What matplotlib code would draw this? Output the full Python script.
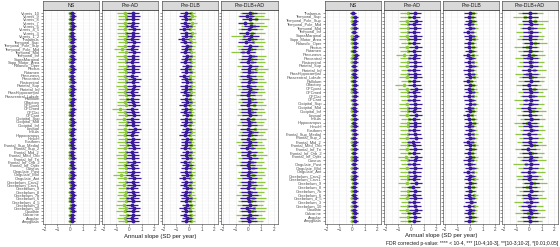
import numpy as np
import matplotlib
matplotlib.use("Agg")
import matplotlib.pyplot as plt

# region labels, listed bottom to top (as on the y axis)
regions = ["Amygdala", "Angular", "Calcarine", "Caudate", "Cerebelum_10", "Cerebelum_3",
           "Cerebelum_4_5", "Cerebelum_6", "Cerebelum_7b", "Cerebelum_8", "Cerebelum_9",
           "Cerebelum_Crus1", "Cerebelum_Crus2", "Cingulate_Ant", "Cingulate_Mid",
           "Cingulate_Post", "Cuneus", "Frontal_Inf_Oper", "Frontal_Inf_Orb_2",
           "Frontal_Inf_Tri", "Frontal_Med_Orb", "Frontal_Mid_2", "Frontal_Sup_2",
           "Frontal_Sup_Medial", "Fusiform", "Heschl", "Hippocampus", "Insula", "Lingual",
           "Occipital_Inf", "Occipital_Mid", "Occipital_Sup", "OFCant", "OFClat", "OFCmed",
           "OFCpost", "Olfactory", "Pallidum", "Paracentral_Lobule", "ParaHippocampal",
           "Parietal_Inf", "Parietal_Sup", "Postcentral", "Precentral", "Precuneus",
           "Putamen", "Rectus", "Rolandic_Oper", "Supp_Motor_Area", "SupraMarginal",
           "Temporal_Inf", "Temporal_Mid", "Temporal_Pole_Mid", "Temporal_Pole_Sup",
           "Temporal_Sup", "Thalamus"]
vermis = ["Vermis_1_2", "Vermis_3", "Vermis_4_5", "Vermis_6", "Vermis_7", "Vermis_8",
          "Vermis_9", "Vermis_10"]
labels_left = regions + vermis
labels_right = regions

facets = ["NS", "Pre-AD", "Pre-DLB", "Pre-DLB+AD"]

# ---- left half (64 rows): purple series (a) and green series (b) ----
left_ns_a = [0.15, 0.18, 0.12, 0.20, 0.16, 0.22, 0.14, 0.19, 0.25, 0.17, 0.13, 0.21, 0.18, 0.15, 0.23, 0.16,
             0.20, 0.12, 0.17, 0.24, 0.19, 0.14, 0.21, 0.16, 0.18, 0.22, 0.13, 0.17, 0.20, 0.15, 0.26, 0.18,
             0.14, 0.19, 0.23, 0.16, 0.12, 0.21, 0.18, 0.15, 0.20, 0.17, 0.24, 0.13, 0.19, 0.16, 0.22, 0.18,
             0.15, 0.21, 0.17, 0.25, 0.14, 0.20, 0.18, 0.23, 0.16, 0.19, 0.12, 0.22, 0.17, 0.15, 0.20, 0.18]
left_ns_b = [0.02, 0.05, -0.01, 0.04, 0.00, 0.06, 0.03, -0.02, 0.05, 0.01, 0.04, 0.07, 0.02, -0.01, 0.03, 0.05,
             0.00, 0.04, 0.06, 0.02, -0.02, 0.03, 0.05, 0.01, 0.04, 0.02, 0.06, 0.00, 0.03, 0.05, 0.01, 0.04,
             0.02, -0.01, 0.05, 0.03, 0.06, 0.01, 0.04, 0.02, 0.00, 0.05, 0.03, 0.07, 0.01, 0.04, 0.02, 0.05,
             0.03, 0.00, 0.06, 0.02, 0.04, 0.01, 0.05, 0.03, -0.01, 0.04, 0.02, 0.06, 0.03, 0.01, 0.05, 0.02]
left_ad_a = [0.30, 0.25, 0.35, 0.28, 0.40, 0.22, 0.33, 0.27, 0.38, 0.31, 0.24, 0.36, 0.29, 0.42, 0.26, 0.34,
             0.30, 0.21, 0.37, 0.28, 0.32, 0.25, 0.39, 0.30, 0.27, 0.35, 0.23, 0.31, 0.44, 0.28, 0.33, 0.26,
             0.36, 0.29, 0.24, 0.38, 0.31, 0.27, 0.34, 0.22, 0.30, 0.37, 0.28, 0.41, 0.25, 0.33, 0.29, 0.35,
             0.26, 0.32, 0.30, 0.38, 0.24, 0.31, 0.36, 0.27, 0.34, 0.29, 0.40, 0.25, 0.32, 0.28, 0.35, 0.30]
left_ad_b = [-0.25, -0.30, -0.18, -0.35, -0.22, -0.40, -0.28, -0.15, -0.32, -0.26, -0.20, -0.38, -0.24, -0.30, -0.65, -0.27,
             -0.21, -0.33, -0.19, -0.29, -0.36, -0.23, -0.31, -0.17, -0.28, -0.25, -0.34, -0.22, -0.30, -0.26, -0.20, -0.37,
             -0.24, -0.29, -0.70, -0.27, -0.32, -0.18, -0.25, -0.31, -0.23, -0.35, -0.28, -0.21, -0.33, -0.26, -0.30, -0.19,
             -0.27, -0.24, -0.36, -0.22, -0.55, -0.29, -0.25, -0.32, -0.20, -0.28, -0.34, -0.23, -0.30, -0.26, -0.21, -0.31]
left_dlb_a = [-0.25, -0.18, -0.30, -0.22, -0.35, -0.15, -0.27, -0.20, -0.32, -0.24, -0.17, -0.29, -0.21, -0.38, -0.19, -0.26,
              -0.23, -0.14, -0.31, -0.20, -0.28, -0.16, -0.33, -0.22, -0.25, -0.19, -0.36, -0.24, -0.18, -0.30, -0.21, -0.27,
              -0.15, -0.29, -0.23, -0.34, -0.20, -0.26, -0.17, -0.31, -0.22, -0.28, -0.19, -0.25, -0.40, -0.21, -0.27, -0.16,
              -0.30, -0.23, -0.18, -0.33, -0.24, -0.20, -0.29, -0.45, -0.22, -0.26, -0.38, -0.19, -0.31, -0.24, -0.35, -0.27]
left_dlb_b = [0.12, 0.08, 0.15, 0.10, 0.05, 0.14, 0.09, 0.17, 0.11, 0.06, 0.13, 0.10, 0.16, 0.07, 0.12, 0.09,
              0.14, 0.11, 0.05, 0.13, 0.08, 0.15, 0.10, 0.12, 0.07, 0.16, 0.09, 0.13, 0.11, 0.06, 0.14, 0.10,
              0.12, 0.08, 0.15, 0.11, 0.13, 0.07, 0.10, 0.14, 0.09, 0.12, 0.16, 0.08, 0.11, 0.13, 0.06, 0.10,
              0.15, 0.09, 0.12, 0.14, 0.08, 0.11, 0.18, 0.10, 0.13, 0.22, 0.09, 0.12, 0.25, 0.11, 0.20, 0.15]
left_mix_a = [0.05, -0.05, 0.10, 0.00, -0.10, 0.08, 0.02, -0.03, 0.12, 0.04, -0.08, 0.06, 0.00, 0.09, -0.04, 0.03,
              0.07, -0.06, 0.01, 0.11, -0.02, 0.05, -0.09, 0.04, 0.08, -0.01, 0.03, 0.10, -0.05, 0.06, 0.02, -0.07,
              0.09, 0.00, 0.04, -0.03, 0.07, 0.01, -0.06, 0.05, 0.10, -0.02, 0.03, 0.08, -0.04, 0.06, 0.00, 0.12,
              -0.05, 0.04, 0.09, -0.08, 0.02, 0.15, -0.20, 0.06, 0.18, -0.12, 0.05, 0.22, -0.25, 0.10, -0.15, 0.08]
left_mix_b = [0.15, 0.30, 0.05, 0.25, 0.40, 0.10, 0.20, 0.35, 0.00, 0.22, 0.45, 0.12, 0.28, 0.08, 0.32, 0.18,
              0.38, 0.06, 0.24, 0.15, 0.42, 0.10, 0.30, 0.20, 0.05, 0.35, 0.16, 0.26, 0.48, 0.12, 0.22, 0.34,
              0.08, 0.28, 0.18, 0.40, 0.14, 0.25, 0.06, 0.32, 0.20, 0.10, 0.36, 0.22, 0.15, 0.30, 0.55, 0.12,
              0.26, 0.18, 0.38, -0.40, 0.20, 0.10, 0.32, 0.24, -0.35, 0.28, 0.15, 0.45, 0.22, 0.60, 0.18, 0.30]

# ---- right half (56 rows) ----
right_ns_a = [0.20, 0.16, 0.24, 0.18, 0.22, 0.14, 0.26, 0.19, 0.21, 0.17, 0.25, 0.15, 0.23, 0.18,
              0.20, 0.13, 0.22, 0.27, 0.16, 0.21, 0.19, 0.24, 0.15, 0.20, 0.18, 0.23, 0.17, 0.21,
              0.14, 0.25, 0.19, 0.22, 0.16, 0.20, 0.24, 0.18, 0.21, 0.15, 0.23, 0.19, 0.26, 0.17,
              0.22, 0.20, 0.28, 0.16, 0.21, 0.24, 0.18, 0.30, 0.19, 0.23, 0.17, 0.25, 0.20, 0.05]
right_ns_b = [0.03, 0.00, 0.05, 0.02, -0.02, 0.04, 0.01, 0.06, 0.02, -0.01, 0.04, 0.03, 0.00, 0.05,
              0.02, 0.04, -0.02, 0.03, 0.06, 0.01, 0.04, 0.02, 0.00, 0.05, 0.03, -0.01, 0.04, 0.02,
              0.06, 0.01, 0.03, 0.05, 0.00, 0.04, 0.02, -0.02, 0.05, 0.03, 0.01, 0.04, 0.02, 0.06,
              0.00, 0.03, 0.05, 0.01, 0.04, -0.01, 0.03, 0.02, 0.05, 0.00, 0.04, 0.02, 0.03, 0.01]
right_ad_a = [0.25, 0.32, 0.20, 0.36, 0.28, 0.22, 0.34, 0.27, 0.30, 0.18, 0.38, 0.24, 0.31, 0.26,
              0.35, 0.21, 0.29, 0.40, 0.23, 0.33, 0.27, 0.19, 0.36, 0.28, 0.24, 0.32, 0.30, 0.22,
              0.37, 0.26, 0.29, 0.34, 0.20, 0.31, 0.25, 0.39, 0.27, 0.23, 0.33, 0.28, 0.21, 0.35,
              0.30, 0.24, 0.32, 0.26, 0.37, 0.22, 0.29, 0.34, 0.25, 0.31, 0.27, 0.36, 0.23, 0.30]
right_ad_b = [-0.20, -0.28, -0.15, -0.33, -0.24, -0.18, -0.30, -0.22, -0.26, -0.12, -0.35, -0.21, -0.27, -0.19,
              -0.31, -0.16, -0.25, -0.38, -0.20, -0.29, -0.23, -0.14, -0.32, -0.26, -0.19, -0.28, -0.24, -0.17,
              -0.34, -0.21, -0.27, -0.30, -0.15, -0.25, -0.22, -0.36, -0.60, -0.18, -0.29, -0.24, -0.16, -0.31,
              -0.26, -0.20, -0.55, -0.23, -0.33, -0.17, -0.27, -0.30, -0.21, -0.28, -0.24, -0.32, -0.19, -0.26]
right_dlb_a = [-0.05, 0.02, -0.08, 0.00, -0.12, 0.04, -0.03, -0.10, 0.01, -0.06, 0.03, -0.09, -0.02, -0.14,
               0.02, -0.05, -0.11, 0.00, -0.07, 0.03, -0.04, -0.13, 0.01, -0.08, -0.02, -0.10, 0.02, -0.06,
               -0.15, -0.01, -0.09, 0.03, -0.04, -0.12, 0.00, -0.07, -0.03, -0.16, 0.01, -0.05, -0.11, 0.02,
               -0.08, -0.02, -0.13, 0.00, -0.06, -0.10, 0.01, -0.04, -0.14, -0.02, -0.08, 0.02, -0.05, -0.03]
right_dlb_b = [0.18, 0.25, 0.12, 0.22, 0.30, 0.15, 0.20, 0.28, 0.10, 0.24, 0.17, 0.32, 0.14, 0.21,
               0.27, 0.11, 0.19, 0.26, 0.16, 0.23, 0.30, 0.13, 0.20, 0.25, 0.18, 0.12, 0.28, 0.22,
               0.15, 0.24, 0.19, 0.31, 0.14, 0.21, 0.26, 0.17, 0.23, 0.11, 0.29, 0.20, 0.16, 0.25,
               0.22, 0.13, 0.27, 0.18, 0.24, 0.15, 0.30, 0.21, 0.12, 0.26, 0.19, 0.23, 0.16, 0.20]
right_mix_a = [0.10, 0.02, 0.15, 0.06, -0.04, 0.12, 0.08, 0.00, 0.14, 0.05, 0.18, 0.03, 0.11, -0.02,
               0.09, 0.16, 0.04, 0.12, 0.07, -0.05, 0.13, 0.06, 0.10, 0.01, 0.15, 0.08, 0.03, 0.17,
               0.05, 0.11, -0.03, 0.09, 0.14, 0.04, 0.12, 0.07, 0.00, 0.16, 0.06, 0.10, 0.02, 0.13,
               0.08, 0.15, 0.03, 0.11, 0.06, 0.18, 0.04, 0.09, 0.12, 0.01, 0.14, 0.07, 0.10, 0.05]
right_mix_b = [0.05, 0.25, -0.10, 0.30, 0.10, -0.20, 0.35, 0.00, 0.20, -0.15, 0.40, 0.08, -0.05, 0.28,
               0.15, -0.25, 0.32, 0.05, 0.22, -0.12, 0.38, 0.02, 0.18, -0.08, 0.30, 0.12, -0.18, 0.26,
               0.06, 0.34, -0.02, 0.20, -0.22, 0.28, 0.10, 0.42, -0.06, 0.16, 0.24, -0.14, 0.36, 0.04,
               0.22, -0.10, 0.30, 0.12, -0.20, 0.45, 0.08, 0.18, -0.04, 0.26, 0.14, 0.50, -0.30, 0.10]

# half-width of the confidence interval, per facet
ci_a = [0.24, 0.50, 0.42, 0.60]
ci_b = [0.16, 0.65, 0.35, 1.00]

purple = "#3A1A9A"
green = "#8DC63F"

W, H = 560, 247
fig = plt.figure(figsize=(W / 100, H / 100), dpi=100)
plt.rcParams["font.family"] = ["Liberation Sans", "DejaVu Sans"]


def px_axes(x0, x1, ytop, ybot):
    return fig.add_axes([x0 / W, (H - ybot) / H, (x1 - x0) / W, (ybot - ytop) / H])


def draw_half(xs, labels, series_a, series_b):
    n = len(labels)
    y = np.arange(n)
    for k, (x0, x1) in enumerate(xs):
        ax = px_axes(x0, x1, 10, 224)
        ax.set_facecolor("white")
        ax.set_xlim(-2.15, 2.3)
        ax.set_ylim(-0.8, n - 0.2)
        ax.set_xticks([-2, -1, 0, 1, 2])
        ax.set_xticks([-1.5, -0.5, 0.5, 1.5], minor=True)
        ax.set_yticks(y)
        ax.grid(True, which="both", axis="x", color="#EBEBEB", lw=0.4)
        ax.grid(True, which="major", axis="y", color="#F2F2F2", lw=0.3)
        ax.set_axisbelow(True)
        for sp in ax.spines.values():
            sp.set_color("#333333")
            sp.set_linewidth(0.4)
        ax.tick_params(which="both", length=1.5, width=0.4, pad=1, labelsize=3.3,
                       colors="#4D4D4D")
        ax.tick_params(axis="y", labelsize=2.9, pad=0.8)
        ax.tick_params(which="minor", length=0)
        if k == 0:
            ax.set_yticklabels(labels)
        else:
            ax.set_yticklabels([])
        a = np.array(series_a[k])
        b = np.array(series_b[k])
        ax.hlines(y, b - ci_b[k], b + ci_b[k], color=green, lw=0.9)
        ax.plot(b, y, "o", ms=2.6, color=green, mew=0)
        ax.hlines(y, a - ci_a[k], a + ci_a[k], color=purple, lw=0.9)
        ax.plot(a, y, "o", ms=2.8, color=purple, mew=0)

        st = px_axes(x0, x1, 1, 10)
        st.set_facecolor("#D9D9D9")
        st.set_xticks([])
        st.set_yticks([])
        for sp in st.spines.values():
            sp.set_color("#333333")
            sp.set_linewidth(0.4)
        st.text(0.5, 0.5, facets[k], ha="center", va="center", fontsize=3.8,
                color="#1A1A1A", transform=st.transAxes)


left_x = [(43, 99), (102, 158), (162, 218), (221, 278)]
right_x = [(325, 381), (384, 440), (443, 499), (502, 558)]

draw_half(left_x, labels_left,
          [left_ns_a, left_ad_a, left_dlb_a, left_mix_a],
          [left_ns_b, left_ad_b, left_dlb_b, left_mix_b])
draw_half(right_x, labels_right,
          [right_ns_a, right_ad_a, right_dlb_a, right_mix_a],
          [right_ns_b, right_ad_b, right_dlb_b, right_mix_b])

fig.text(160 / W, 1 - 236 / H, "Annual slope (SD per year)", ha="center", va="center",
         fontsize=4.3, color="#1A1A1A")
fig.text(441 / W, 1 - 235 / H, "Annual slope (SD per year)", ha="center", va="center",
         fontsize=4.3, color="#1A1A1A")
fig.text(558 / W, 1 - 243 / H,
         "FDR corrected p-value: **** < 10-4, *** [10-4;10-3[, **[10-3;10-2[, *[0.01;0.05[",
         ha="right", va="center", fontsize=3.6, color="#1A1A1A")

fig.savefig("out.png", dpi=100)
